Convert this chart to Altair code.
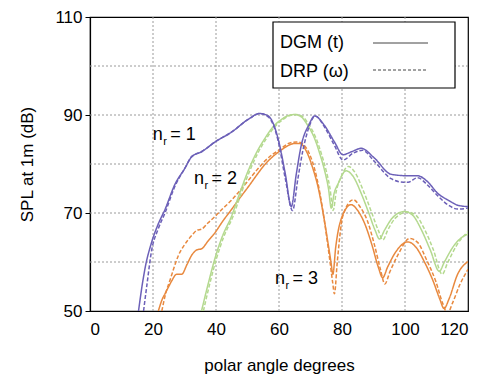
import altair as alt
import pandas as pd

# ---- data ----
n1_dgm_angle = [15.4, 16.5, 17.5, 19.6, 21.5, 23.8, 27.0, 30, 32.3, 35.4, 39.7, 44.9, 50.2, 53.9, 56.6, 59.7, 62, 63.9, 65.5, 67.1, 69.5, 71.3, 74.5, 77.6, 80.3, 83, 86.1, 90.3, 95.6, 100.9, 104.0, 107, 110.4, 114, 116.7, 120]
n1_dgm_spl = [50, 55, 58.8, 64.1, 67.5, 70.7, 75.9, 79, 81.5, 82.5, 84.5, 86.5, 89.1, 90.3, 89.8, 85.2, 78, 71.3, 78, 83.9, 88, 89.8, 87.8, 84.5, 81.9, 82.5, 83.2, 81.2, 77.9, 77.6, 77.6, 76.5, 74.0, 72.5, 71.6, 71.3]

n1_drp_angle = [17.0, 18, 19.6, 21.5, 23.8, 27, 30, 32.3, 35.4, 39.7, 44.9, 50.2, 53.9, 56.6, 59.7, 62, 64.3, 66, 67.5, 69.5, 71.5, 74.5, 77.6, 80.3, 83.5, 86.5, 90.3, 95.6, 99.5, 101, 104, 107, 110.4, 114, 116.7, 120]
n1_drp_spl = [50, 55, 62.5, 66.5, 70.0, 75.5, 79, 81.5, 82.5, 84.5, 86.5, 89.1, 90.3, 89.6, 84.8, 77, 70.5, 77, 82.5, 87.5, 89.8, 87.5, 83.8, 80.8, 82.2, 82.8, 80.5, 77.0, 76.3, 76.3, 77.2, 75.8, 73.5, 71.5, 70.8, 71.0]

n2_dgm_angle = [35.4, 37.5, 39.7, 42, 44.9, 47.5, 50.2, 53, 55.5, 58, 60.8, 63, 65.0, 67.1, 69, 71.3, 73, 74.5, 75.7, 76.6, 77.5, 78.7, 81.3, 83.5, 86.1, 88.5, 90.5, 91.9, 93.5, 96, 99.8, 102.5, 105.1, 108, 110.9, 112.5, 115.6, 118, 120]
n2_dgm_spl = [50, 55.5, 60.8, 65.2, 69.3, 74, 78.6, 82.5, 85.2, 87.5, 89.1, 89.9, 90.1, 89.6, 88, 85.2, 82, 78.6, 75, 71, 74, 75.9, 78.6, 77.5, 74.0, 70, 66.5, 64.7, 66.5, 69, 70.3, 69.5, 66.7, 62.5, 58.1, 60, 63.4, 65, 65.7]

n2_drp_angle = [36.0, 38, 40.2, 42.5, 45.4, 48, 50.7, 53.5, 56, 58.5, 61.3, 63.5, 65.5, 67.6, 69.5, 71.8, 73.5, 75, 76.2, 77.2, 78.2, 79.5, 82, 84.2, 86.8, 89.3, 91.5, 93.0, 94.5, 97, 100.8, 103.5, 106.1, 109, 111.8, 113.5, 116.5, 120]
n2_drp_spl = [50, 55.5, 60.8, 65.2, 69.3, 74, 78.6, 82.5, 85.2, 87.5, 89.1, 89.9, 90.1, 89.6, 88, 85.2, 82, 78.6, 75, 70.5, 74.5, 77, 79.5, 78.2, 74.5, 70.3, 66.5, 64.5, 66.5, 69, 70.2, 69.5, 66.8, 62.5, 57.5, 59.8, 63.5, 66.2]

n3_dgm_angle = [21.7, 23, 23.8, 25, 25.9, 27.5, 29.1, 30.8, 32.3, 34, 35.4, 37.5, 39.7, 42, 44.9, 47.5, 50.2, 53, 55.5, 58, 60.8, 63, 65.0, 66.5, 69.2, 70.8, 72.4, 74, 75.5, 76.5, 77.1, 78, 79.7, 82.9, 85, 87.1, 89.5, 91.5, 92.9, 94.5, 97, 100.9, 103.5, 106.1, 109, 111, 112.4, 114, 116.7, 120]
n3_dgm_spl = [50, 52.5, 53.5, 55, 56.1, 57.5, 57.5, 59.5, 61.4, 62.5, 62.7, 64.3, 66.0, 68.2, 70.7, 73, 75.3, 77.8, 79.9, 81.5, 82.9, 83.8, 84.2, 84.2, 81.9, 79, 75.3, 70, 64.1, 60, 57.5, 63, 68.7, 71.7, 70.5, 68.0, 63.5, 59, 56.8, 59, 62, 64.1, 63, 60.1, 56, 52.5, 50.5, 52.5, 57.5, 60.1]

n3_drp_angle = [22.8, 24, 25.5, 27, 28.1, 30, 32.3, 34, 35.4, 37.5, 39.7, 42, 44.9, 47.5, 50.2, 53, 55.5, 58, 60.8, 63, 65.5, 67, 69.7, 71.3, 73, 74.5, 76, 77, 77.6, 78.5, 80.3, 83.6, 85.8, 88, 90.3, 92.2, 93.6, 95.2, 97.8, 101.5, 104, 106.8, 109.8, 112, 113.5, 115, 117.5, 120]
n3_drp_spl = [50, 53.5, 56.5, 59.5, 61.4, 63.5, 65.4, 66.5, 66.7, 68, 69.3, 70.8, 72.6, 74.5, 76.6, 78.8, 80.6, 82, 83.2, 84.2, 84.5, 84.3, 82, 79, 74, 68, 61, 56, 53.5, 60, 69.5, 72.7, 71.2, 68.5, 63.5, 58.5, 55.5, 58, 61.5, 64.8, 64, 60.5, 56, 51.5, 49.5, 51.5, 55.5, 58.5]

series_names = ["n3", "n2", "n1"]
series_colors = ["#e8893f", "#b4d98f", "#6c60b8"]
methods = ["DGM (t)", "DRP (ω)"]

x_ticks = [0, 20, 40, 60, 80, 100, 120]
y_ticks = [50, 70, 90, 110]
x_grid = [20, 40, 60, 80, 100]
y_grid = [60, 70, 80, 90, 100]

label_x = [19.9, 33.0, 58.7]
label_y = [85.0, 75.9, 55.6]
label_rest = ["= 1", "= 2", "= 3"]

# ---- build table ----
rows = []
for name, method, ang, spl in [
    ("n3", methods[0], n3_dgm_angle, n3_dgm_spl),
    ("n3", methods[1], n3_drp_angle, n3_drp_spl),
    ("n2", methods[0], n2_dgm_angle, n2_dgm_spl),
    ("n2", methods[1], n2_drp_angle, n2_drp_spl),
    ("n1", methods[0], n1_dgm_angle, n1_dgm_spl),
    ("n1", methods[1], n1_drp_angle, n1_drp_spl),
]:
    for a, s in zip(ang, spl):
        rows.append({"angle": a, "spl": s, "series": name, "method": method})
df = pd.DataFrame(rows)

FONT = "Liberation Sans"

xscale = alt.Scale(domain=[0, 120], nice=False, zero=False)
yscale = alt.Scale(domain=[50, 110], nice=False, zero=False)

xaxis = alt.Axis(values=x_ticks, grid=False, tickSize=0, labelFontSize=17,
                 labelPadding=10, title="polar angle degrees", titleFontSize=17,
                 titleFontWeight="normal", titlePadding=20, domainColor="black",
                 domainWidth=1.2, labelColor="black", titleColor="black",
                 labelFont=FONT, titleFont=FONT)
yaxis = alt.Axis(values=y_ticks, grid=False, tickSize=5, tickColor="black",
                 labelFontSize=17, labelPadding=3, title="SPL at 1m (dB)",
                 titleFontSize=17, titleFontWeight="normal", titlePadding=18,
                 domainColor="black", domainWidth=1.2, labelColor="black",
                 titleColor="black", labelFont=FONT, titleFont=FONT)

xgrid = alt.Chart(pd.DataFrame({"g": x_grid})).mark_rule(
    color="#9a9a9a", strokeDash=[2, 2], strokeWidth=1
).encode(x=alt.X("g:Q", scale=xscale, axis=xaxis))

ygrid = alt.Chart(pd.DataFrame({"g": y_grid})).mark_rule(
    color="#9a9a9a", strokeDash=[2, 2], strokeWidth=1
).encode(y=alt.Y("g:Q", scale=yscale, axis=yaxis))

lines = alt.Chart(df).mark_line(strokeWidth=1.5, clip=True, interpolate="monotone").encode(
    x=alt.X("angle:Q", scale=xscale, axis=xaxis),
    y=alt.Y("spl:Q", scale=yscale, axis=yaxis),
    color=alt.Color("series:N", scale=alt.Scale(domain=series_names, range=series_colors), legend=None),
    strokeDash=alt.StrokeDash("method:N", scale=alt.Scale(domain=methods, range=[[1, 0], [4, 2]]), legend=None),
    order=alt.Order("angle:Q"),
)

lab_df = pd.DataFrame({"x": label_x, "y": label_y, "rest": label_rest})
lab_base = alt.Chart(lab_df).encode(
    x=alt.X("x:Q", scale=xscale, axis=xaxis),
    y=alt.Y("y:Q", scale=yscale, axis=yaxis),
)
lab_n = lab_base.mark_text(text="n", align="left", baseline="alphabetic", fontSize=18, font=FONT, color="black")
lab_r = lab_base.mark_text(text="r", align="left", baseline="alphabetic", fontSize=11, font=FONT, color="black", dx=10.5, dy=5)
lab_rest = lab_base.mark_text(align="left", baseline="alphabetic", fontSize=18, font=FONT, color="black", dx=17.5).encode(text="rest:N")

one = pd.DataFrame({"k": [0]})
leg_box = alt.Chart(one).mark_rect(fill="white", stroke="black", strokeWidth=1.2).encode(
    x=alt.value(183), x2=alt.value(365), y=alt.value(5), y2=alt.value(71))
leg_t1 = alt.Chart(one).mark_text(text=methods[0], align="left", baseline="middle", fontSize=18, font=FONT, color="black").encode(
    x=alt.value(190), y=alt.value(26))
leg_t2 = alt.Chart(one).mark_text(text=methods[1], align="left", baseline="middle", fontSize=18, font=FONT, color="black").encode(
    x=alt.value(190), y=alt.value(55))
leg_l1 = alt.Chart(one).mark_rule(color="#444", strokeWidth=1).encode(
    x=alt.value(283), x2=alt.value(338), y=alt.value(26))
leg_l2 = alt.Chart(one).mark_rule(color="#444", strokeWidth=1, strokeDash=[3, 2]).encode(
    x=alt.value(283), x2=alt.value(338), y=alt.value(53))

chart = alt.layer(
    xgrid, ygrid, lines, lab_n, lab_r, lab_rest, leg_box, leg_t1, leg_t2, leg_l1, leg_l2
).properties(
    width=378, height=294,
    autosize=alt.AutoSizeParams(type="none"),
    padding={"left": 82, "top": 9, "right": 15, "bottom": 66},
).configure(font=FONT).configure_view(stroke="black", strokeWidth=1.2)

chart.save("out.html", embed_options={"renderer": "svg", "actions": False})
